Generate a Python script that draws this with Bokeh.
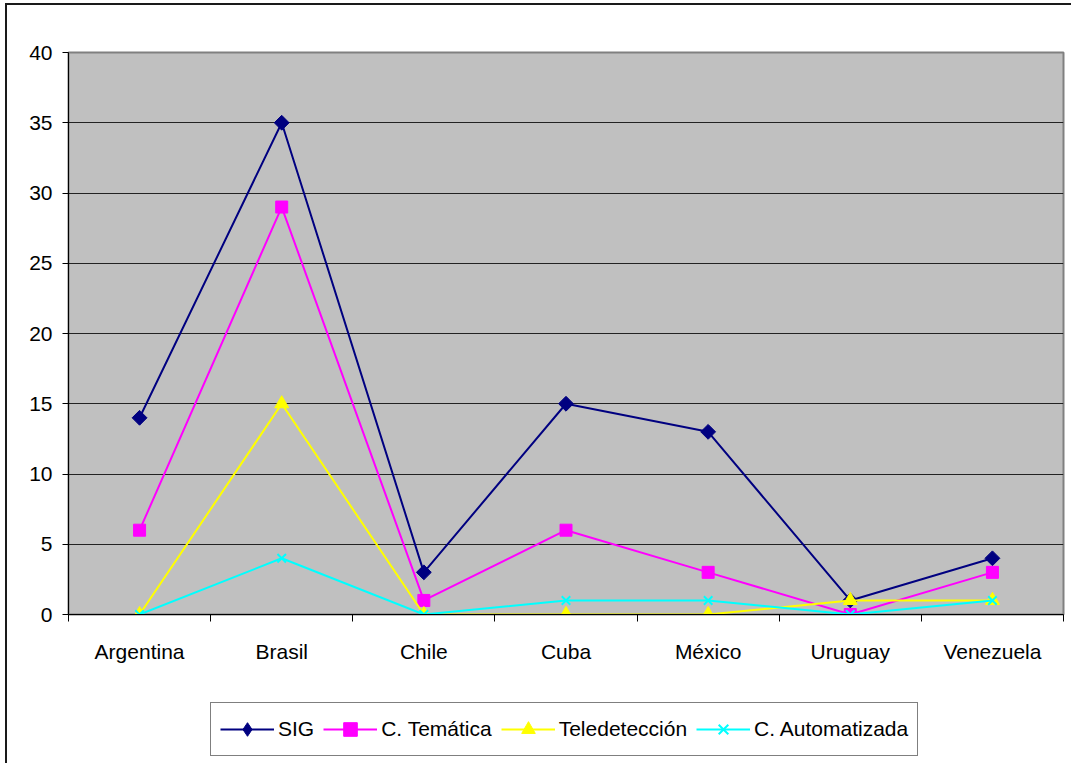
import math
from bokeh.plotting import figure
from bokeh.layouts import column
from bokeh.models import (Range1d, FixedTicker, Legend, LegendItem, ColumnDataSource, InlineStyleSheet)
from bokeh.embed import file_html
from bokeh.resources import INLINE

categories = ["Argentina", "Brasil", "Chile", "Cuba", "México", "Uruguay", "Venezuela"]
sig = [14, 35, 3, 15, 13, 1, 4]
tematica = [6, 29, 1, 6, 3, 0, 3]
teledeteccion = [0, 15, 0, 0, 0, 1, 1]
automatizada = [0, 4, 0, 1, 1, 0, 1]
y_ticks = [0, 5, 10, 15, 20, 25, 30, 35, 40]

FONT = "Liberation Sans"
FS = "21px"
x = list(range(len(categories)))

p = figure(width=1066, height=690, output_backend="svg", toolbar_location=None,
           x_range=Range1d(-0.5, len(categories) - 0.5), y_range=Range1d(0, 40),
           min_border_left=61, min_border_right=10, min_border_top=47, min_border_bottom=81)
p.background_fill_color = "#C0C0C0"
p.border_fill_color = "white"
p.outline_line_color = "#808080"
p.outline_line_width = 2

# axes
p.xaxis.ticker = FixedTicker(ticks=x, minor_ticks=[i - 0.5 for i in range(len(categories) + 1)])
p.xaxis.major_label_overrides = {i: c for i, c in enumerate(categories)}
p.xaxis.major_tick_out = 0
p.xaxis.major_tick_in = 0
p.xaxis.minor_tick_out = 7
p.xaxis.minor_tick_in = 0
p.xaxis.minor_tick_line_color = "black"
p.xaxis.axis_line_color = "black"
p.xaxis.major_label_standoff = 18
p.xaxis.major_label_text_font = FONT
p.xaxis.major_label_text_font_size = FS
p.xaxis.major_label_text_color = "black"

p.yaxis.ticker = FixedTicker(ticks=y_ticks, minor_ticks=[])
p.yaxis.major_tick_out = 6
p.yaxis.major_tick_in = 0
p.yaxis.major_tick_line_color = "black"
p.yaxis.axis_line_color = "black"
p.yaxis.major_label_standoff = 10
p.yaxis.major_label_text_font = FONT
p.yaxis.major_label_text_font_size = FS
p.yaxis.major_label_text_color = "black"

p.xgrid.grid_line_color = None
p.ygrid.ticker = FixedTicker(ticks=y_ticks)
p.ygrid.grid_line_color = "#222222"
p.ygrid.grid_line_width = 1

src = ColumnDataSource(dict(x=x, sig=sig, tem=tematica, tel=teledeteccion, aut=automatizada))

# (label, column, colour, chart marker, size, angle, legend marker)
series = [
    ("SIG", "sig", "#000080", "square", 10.5, math.pi / 4, "diamond"),
    ("C. Temática", "tem", "#FF00FF", "square", 12, 0.0, "square"),
    ("Teledetección", "tel", "#FFFF00", "triangle", 14, 0.0, "triangle"),
    ("C. Automatizada", "aut", "#00FFFF", "x", 12, 0.0, "x"),
]

# legend figure (sits below the chart, same outer frame); its swatch renderers lie outside its view
lg = figure(width=1066, height=70, output_backend="svg", toolbar_location=None,
            x_range=Range1d(0, 1), y_range=Range1d(0, 1),
            min_border_left=0, min_border_right=0, min_border_top=0, min_border_bottom=0)
lg.axis.visible = False
lg.grid.visible = False
lg.outline_line_color = None
lg.background_fill_color = "white"
lg.border_fill_color = "white"
swatch = ColumnDataSource(dict(x=[-5, -6], y=[-5, -6]))

items = []
for label, col, color, marker, size, angle, lmarker in series:
    p.line("x", col, source=src, line_color=color, line_width=2)
    lw = 2 if marker == "x" else 1
    p.scatter("x", col, source=src, marker=marker, size=size, angle=angle,
              line_color=color, fill_color=color, line_width=lw)
    ln = lg.line("x", "y", source=swatch, line_color=color, line_width=2)
    sc = lg.scatter("x", "y", source=swatch, marker=lmarker, size=size,
                    line_color=color, fill_color=color, line_width=lw)
    items.append(LegendItem(label=label, renderers=[ln, sc]))

legend = Legend(items=items, orientation="horizontal", location=(142, 7),
                label_text_font=FONT, label_text_font_size=FS, label_text_color="black",
                glyph_width=54, glyph_height=34, label_standoff=4, spacing=9,
                padding=9, margin=0, border_line_color="black", border_line_width=1,
                background_fill_color="white", background_fill_alpha=1.0)
lg.add_layout(legend, "center")

p.stylesheets = [InlineStyleSheet(css=":host { border-left: 2px solid #1a1a1a; border-top: 2px solid #1a1a1a; margin-left: 5px; margin-top: 3px; }")]
lg.stylesheets = [InlineStyleSheet(css=":host { border-left: 2px solid #1a1a1a; margin-left: 5px; }")]

layout = column(p, lg, spacing=0)
open("out.html", "w").write(file_html(layout, INLINE))
